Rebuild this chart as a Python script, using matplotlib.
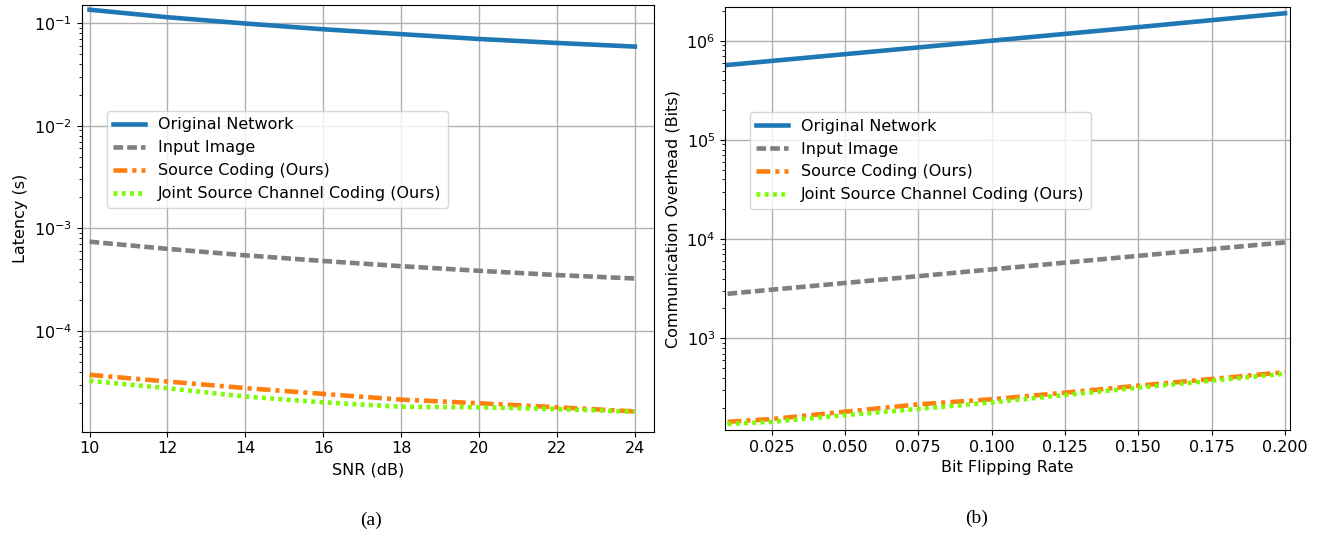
import numpy as np
import matplotlib
matplotlib.use('Agg')
import matplotlib.pyplot as plt

# data
snr = [10, 12, 14, 16, 18, 20, 22, 24]
lat_orig = [0.135, 0.114, 0.099, 0.087, 0.078, 0.070, 0.064, 0.059]
lat_img = [7.4e-4, 6.3e-4, 5.45e-4, 4.8e-4, 4.27e-4, 3.85e-4, 3.5e-4, 3.24e-4]
lat_sc = [3.73e-5, 3.21e-5, 2.77e-5, 2.43e-5, 2.14e-5, 1.97e-5, 1.8e-5, 1.64e-5]
lat_jscc = [3.26e-5, 2.76e-5, 2.29e-5, 2.01e-5, 1.82e-5, 1.8e-5, 1.73e-5, 1.63e-5]

bfr = [0.01, 0.025, 0.05, 0.075, 0.1, 0.125, 0.15, 0.175, 0.2]
bits_orig = [5.69e5, 6.25e5, 7.31e5, 8.55e5, 1.0e6, 1.17e6, 1.37e6, 1.61e6, 1.89e6]
bits_img = [2.81e3, 3.09e3, 3.61e3, 4.23e3, 4.95e3, 5.79e3, 6.78e3, 7.93e3, 9.27e3]
bits_sc = [144, 153.5, 182, 216, 243, 283, 333, 389, 456]
bits_jscc = [137, 144, 168, 194, 226, 268, 318, 374, 440]

labels = ['Original Network', 'Input Image', 'Source Coding (Ours)',
          'Joint Source Channel Coding (Ours)']

plt.rcParams['font.size'] = 11.5
lw = 3.3


def draw(ax, x, ys):
    ax.plot(x, ys[0], color='#1f77b4', lw=lw, label=labels[0])
    ax.plot(x, ys[1], color='#7f7f7f', lw=lw, dashes=(2.1, 0.9), label=labels[1])
    ax.plot(x, ys[2], color='#ff7f0e', lw=lw, dashes=(3.0, 1.1, 0.9, 1.1), label=labels[2])
    ax.plot(x, ys[3], color='#7cfc00', lw=lw, dashes=(0.85, 0.95), label=labels[3])
    ax.set_yscale('log')
    ax.grid(True, which='major', color='#b0b0b0', lw=1.0)
    ax.legend(loc='upper left', bbox_to_anchor=(0.044, 0.752), fontsize=11.5,
              borderaxespad=0, handlelength=2.0)


fig = plt.figure(figsize=(13.27, 5.33), dpi=100)

ax1 = fig.add_axes([0.0616, 0.190, 0.4315, 0.8006])
draw(ax1, snr, [lat_orig, lat_img, lat_sc, lat_jscc])
ax1.set_xlim(9.8, 24.5)
ax1.set_ylim(1.04e-5, 0.15)
ax1.set_xticks(snr)
ax1.set_xlabel('SNR (dB)')
ax1.set_ylabel('Latency (s)')

ax2 = fig.add_axes([0.5463, 0.1932, 0.4258, 0.7931])
draw(ax2, bfr, [bits_orig, bits_img, bits_sc, bits_jscc])
ax2.set_xlim(0.0091, 0.2017)
ax2.set_ylim(119, 2.17e6)
ax2.set_xticks([0.025, 0.05, 0.075, 0.1, 0.125, 0.15, 0.175, 0.2])
ax2.set_xticklabels(['0.025', '0.050', '0.075', '0.100', '0.125', '0.150', '0.175', '0.200'])
ax2.set_xlabel('Bit Flipping Rate')
ax2.set_ylabel('Communication Overhead (Bits)')

fig.text(371 / 1327, 1 - 520 / 533, '(a)', ha='center', va='center',
         family='Liberation Serif', fontsize=14)
fig.text(977 / 1327, 1 - 518 / 533, '(b)', ha='center', va='center',
         family='Liberation Serif', fontsize=14)

fig.savefig('out.png', dpi=100)
